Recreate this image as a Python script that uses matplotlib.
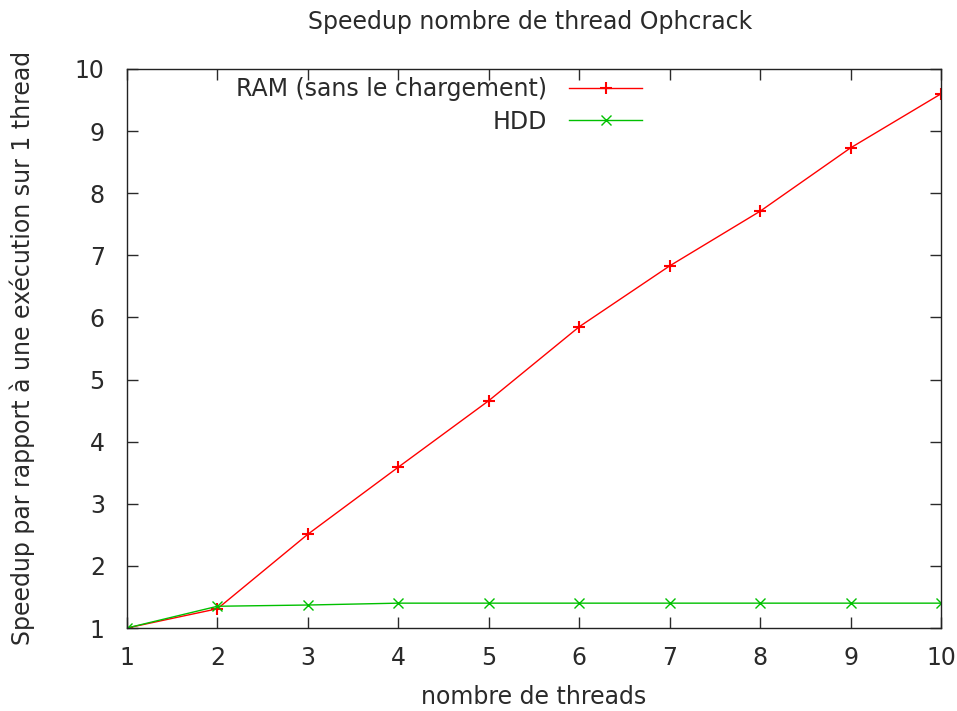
import matplotlib
matplotlib.use("Agg")
import matplotlib.pyplot as plt

threads = [1, 2, 3, 4, 5, 6, 7, 8, 9, 10]
ram = [1.0, 1.31, 2.51, 3.59, 4.66, 5.85, 6.83, 7.71, 8.73, 9.60]
hdd = [1.0, 1.35, 1.37, 1.40, 1.40, 1.40, 1.40, 1.40, 1.40, 1.40]
yticks = [1, 2, 3, 4, 5, 6, 7, 8, 9, 10]

FS = 17
plt.rcParams['font.family'] = ['DejaVu Sans']
fig = plt.figure(figsize=(9.57, 7.11), dpi=100)
ax = fig.add_axes([127/957, 83/711, 814/957, 559/711])

ax.plot(threads, ram, color='#ff0000', lw=1.0, marker='+', ms=8, mew=1.5,
        label='RAM (sans le chargement)')
ax.plot(threads, hdd, color='#00c000', lw=1.0, marker='x', ms=6.5, mew=1.0,
        label='HDD')

ax.set_xlim(1, 10)
ax.set_ylim(1, 10)
ax.set_xticks(threads)
ax.set_yticks(yticks)
ax.tick_params(direction='in', top=True, right=True, length=8, width=1,
               labelsize=FS, colors='#2a2a2a')
ax.tick_params(axis='x', pad=13)
ax.tick_params(axis='y', pad=16)
for s in ax.spines.values():
    s.set_linewidth(1.0)
    s.set_color('#222222')

fig.text(530/957, 1 - 22/711, 'Speedup nombre de thread Ophcrack', fontsize=FS,
         color='#2a2a2a', ha='center', va='center')
fig.text(534/957, 1 - 697/711, 'nombre de threads', fontsize=FS,
         color='#2a2a2a', ha='center', va='center')
fig.text(22/957, 1 - 348/711, 'Speedup par rapport à une exécution sur 1 thread',
         fontsize=FS, color='#2a2a2a', ha='center', va='center', rotation=90)

leg = ax.legend(loc='upper right', bbox_to_anchor=(0.659, 1.023), frameon=False,
                markerfirst=False, fontsize=FS, handlelength=3.1,
                labelspacing=0.35, handletextpad=0.95)
for t in leg.get_texts():
    t.set_color('#2a2a2a')

fig.savefig('out.png', dpi=100)
